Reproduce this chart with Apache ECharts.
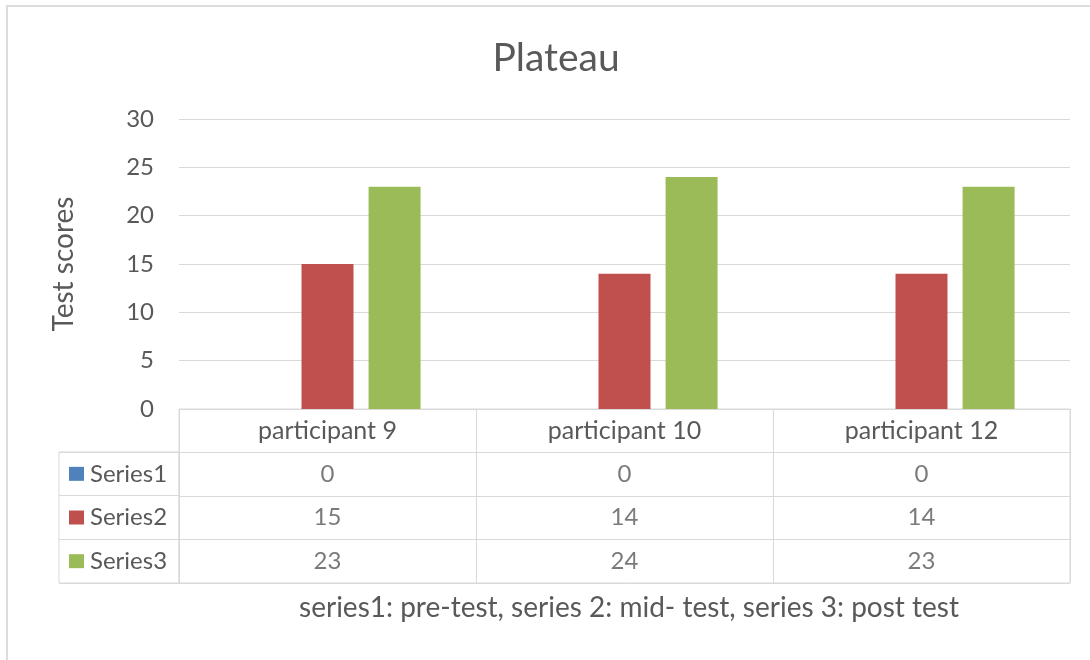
<!DOCTYPE html>
<html>
<head>
<meta charset="utf-8">
<script src="https://cdn.jsdelivr.net/npm/echarts@6/dist/echarts.min.js"></script>
<style>
  html, body { margin: 0; padding: 0; background: #fff; }
  .frame {
    position: absolute; left: 6px; top: 5px; width: 1090px; height: 660px;
    border-top: 2px solid #dcdcdc; border-left: 2px solid #dcdcdc;
  }
  .main { position: absolute; left: 0; top: 0; width: 1090px; height: 660px; }
</style>
</head>
<body>
<div class="frame"></div>
<div class="main" id="chart"></div>
<script>
// data
let categories = ['participant 9', 'participant 10', 'participant 12']
let seriesNames = ['Series1', 'Series2', 'Series3']
let preTest = [0, 0, 0]
let midTest = [15, 14, 14]
let postTest = [23, 24, 23]
let seriesColors = ['#4f81bd', '#c0504d', '#9bbb59']
let yMin = 0, yMax = 30, yStep = 5

let font = 'Lato, "Open Sans", sans-serif'
let textColor = '#595959'
let lineColor = '#d9d9d9'
let allValues = [preTest, midTest, postTest]

// bars
let seriesData = []
for (let i = 0; i < allValues.length; i++) {
  seriesData.push({
    name: seriesNames[i],
    type: 'bar',
    xAxisIndex: 0,
    yAxisIndex: 0,
    barWidth: 52,
    barGap: '29%',
    itemStyle: { color: seriesColors[i] },
    data: allValues[i]
  })
}

// table cells: one scatter point per cell, only the label shows
let cells = []
for (let i = 0; i < allValues.length; i++) {
  for (let j = 0; j < categories.length; j++) {
    cells.push([categories[j], seriesNames[i], allValues[i][j]])
  }
}
seriesData.push({
  type: 'scatter',
  xAxisIndex: 1,
  yAxisIndex: 1,
  symbolSize: 1,
  itemStyle: { color: 'rgba(0,0,0,0)' },
  silent: true,
  label: {
    show: true,
    position: 'inside',
    formatter: p => p.value[2],
    color: textColor,
    fontSize: 24,
    fontFamily: font
  },
  data: cells
})

let rich = { t: { color: textColor, fontSize: 24, fontFamily: font, padding: [0, 0, 0, 6] } }
seriesNames.forEach((n, i) => {
  rich['k' + i] = { backgroundColor: seriesColors[i], width: 15, height: 14 }
})

let chart = echarts.init(document.getElementById('chart'))
let option = {
  textStyle: { fontFamily: font },
  title: [
    {
      text: 'Plateau',
      left: 551,
      top: 34,
      textAlign: 'center',
      textStyle: { color: textColor, fontSize: 39, fontWeight: 'normal', fontFamily: font }
    },
    {
      text: 'series1: pre-test, series 2: mid- test, series 3: post test',
      left: 624,
      top: 589,
      textAlign: 'center',
      textStyle: { color: textColor, fontSize: 28, fontWeight: 'normal', fontFamily: font }
    }
  ],
  grid: [
    { left: 179, right: 20, top: 119, height: 290 },
    { left: 179, right: 20, top: 409, height: 174, show: true, borderColor: lineColor, borderWidth: 1 },
    { left: 59, width: 120, top: 452, height: 131, show: true, borderColor: lineColor, borderWidth: 1 }
  ],
  xAxis: [
    {
      type: 'category',
      gridIndex: 0,
      data: categories,
      axisLine: { show: true, lineStyle: { color: lineColor } },
      axisTick: { show: false },
      axisLabel: { color: textColor, fontSize: 25, margin: 22, verticalAlign: 'middle', fontFamily: font }
    },
    {
      type: 'category',
      gridIndex: 1,
      data: categories,
      axisLine: { show: false },
      axisTick: { show: false },
      axisLabel: { show: false },
      splitLine: { show: true, interval: 0, lineStyle: { color: lineColor } }
    },
    { type: 'value', gridIndex: 2, show: false }
  ],
  yAxis: [
    {
      type: 'value',
      gridIndex: 0,
      min: yMin,
      max: yMax,
      interval: yStep,
      name: 'Test scores',
      nameLocation: 'middle',
      nameRotate: 90,
      nameGap: 101,
      nameTextStyle: { color: textColor, fontSize: 28, fontFamily: font },
      axisLine: { show: false },
      axisTick: { show: false },
      axisLabel: { color: textColor, fontSize: 24, margin: 25, fontFamily: font },
      splitLine: { lineStyle: { color: lineColor } }
    },
    {
      type: 'category',
      gridIndex: 1,
      inverse: true,
      data: [''].concat(seriesNames),
      axisLine: { show: false },
      axisTick: { show: false },
      axisLabel: { show: false },
      splitLine: { show: true, interval: 0, lineStyle: { color: lineColor } }
    },
    {
      type: 'category',
      gridIndex: 2,
      inverse: true,
      data: seriesNames,
      axisLine: { show: false },
      axisTick: { show: false },
      splitLine: { show: true, interval: 0, lineStyle: { color: lineColor } },
      axisLabel: {
        inside: true,
        margin: 10,
        interval: 0,
        formatter: (v, i) => '{k' + i + '|}{t|' + v + '}',
        rich: rich
      }
    }
  ],
  series: seriesData
}
chart.setOption(option)
window.addEventListener('resize', () => {
  chart.resize()
})
</script>
</body>
</html>
